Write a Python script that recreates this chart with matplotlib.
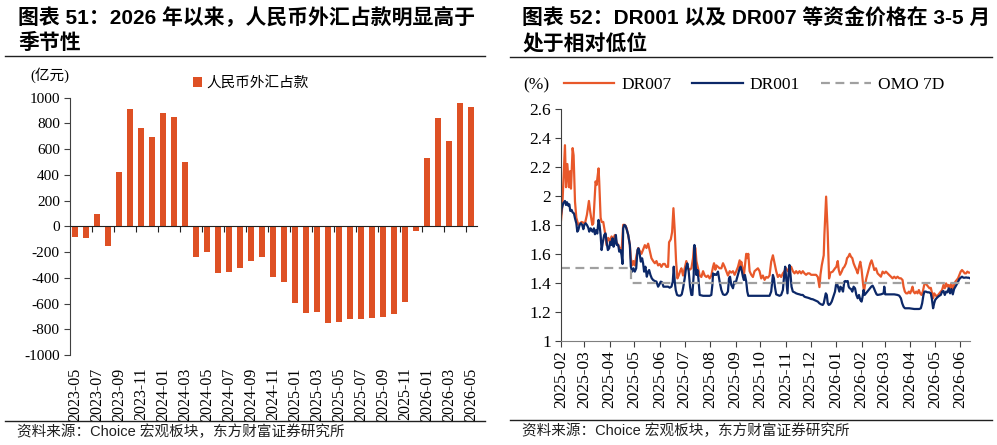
"""
plot.py
FX purchase (left bars) and DR001 / DR007 money rates (right lines)
"""

import numpy as np
import pandas as pd
import matplotlib
matplotlib.use("Agg")
from matplotlib import pyplot as plt
from matplotlib.lines import Line2D
from matplotlib.ticker import FuncFormatter

# Data
# monthly change of RMB FX purchase, 100 mn yuan, 2023-05 .. 2026-05
FX_MONTHS = [p.strftime('%Y-%m') for p in pd.period_range('2023-05', '2026-05', freq='M')]
FX_VALUES = [-81, -93, 93, -153, 424, 909, 766, 691, 883, 849, 502, -241, -197, -365,
             -358, -326, -270, -236, -397, -430, -593, -671, -663, -754, -744, -718,
             -718, -712, -707, -681, -588, -34, 533, 844, 665, 960, 929]

# money market rates, (days after 2025-02-01, %)
DR007 = [(0, 1.83), (1.6, 1.93), (4.8, 2.35), (6.1, 2.06), (7.7, 2.22), (9.7, 2.06), (10.9, 2.17),
         (12.1, 2.05), (14.1, 2.33), (15.3, 2.28), (17.0, 1.96), (18.6, 1.85), (21.0, 1.80), (25.0, 1.82),
         (29.1, 1.81), (31.5, 1.87), (33.9, 1.965), (35.5, 1.89), (38.0, 1.80), (39.2, 1.81), (42.0, 2.10),
         (43.2, 2.075), (45.6, 2.19), (46.4, 2.10), (48.1, 1.85), (49.3, 1.82), (51.3, 1.82), (53.3, 1.75),
         (55.3, 1.66), (57.3, 1.71), (59.4, 1.69), (61.4, 1.72), (63.4, 1.70), (65.4, 1.73), (67.4, 1.68),
         (69.5, 1.66), (73.5, 1.615), (75.5, 1.80), (77.5, 1.80), (79.5, 1.78), (81.6, 1.73), (83.6, 1.66),
         (84.8, 1.57), (86.4, 1.52), (88.0, 1.55), (89.6, 1.52), (91.7, 1.59), (93.7, 1.64), (95.7, 1.62),
         (97.7, 1.60), (99.7, 1.63), (101.8, 1.66), (103.8, 1.64), (105.8, 1.67), (107.8, 1.62), (109.8, 1.57),
         (111.9, 1.55), (113.9, 1.535), (115.9, 1.55), (117.9, 1.52), (119.9, 1.53), (121.9, 1.51), (124.0, 1.53),
         (126.0, 1.53), (128.0, 1.51), (130.0, 1.51), (131.2, 1.68), (133.3, 1.70), (134.9, 1.75), (136.5, 1.915),
         (138.1, 1.76), (139.7, 1.55), (141.3, 1.43), (142.9, 1.45), (144.6, 1.48), (146.2, 1.50), (148.2, 1.45),
         (150.2, 1.50), (152.2, 1.55), (154.2, 1.50), (156.3, 1.49), (158.3, 1.50), (160.3, 1.57), (161.5, 1.65),
         (163.2, 1.64), (164.4, 1.55), (166.4, 1.50), (168.4, 1.45), (170.4, 1.44), (172.5, 1.48), (174.5, 1.45),
         (176.5, 1.44), (178.5, 1.45), (180.5, 1.43), (182.5, 1.45), (184.6, 1.51), (185.8, 1.535), (187.4, 1.49),
         (188.6, 1.52), (190.6, 1.51), (192.6, 1.50), (194.7, 1.50), (196.7, 1.535), (198.7, 1.51), (200.7, 1.48),
         (202.7, 1.45), (204.8, 1.48), (206.8, 1.47), (208.8, 1.48), (210.8, 1.455), (212.8, 1.48), (214.9, 1.51),
         (216.9, 1.555), (217.7, 1.51), (218.9, 1.545), (220.9, 1.49), (222.1, 1.455), (223.7, 1.535), (224.9, 1.60),
         (226.2, 1.57), (227.4, 1.60), (229.0, 1.48), (231.0, 1.455), (233.0, 1.44), (235.0, 1.48), (237.1, 1.49),
         (239.1, 1.50), (241.1, 1.48), (243.1, 1.43), (245.1, 1.45), (247.2, 1.42), (249.2, 1.44), (251.2, 1.435),
         (253.2, 1.45), (255.2, 1.545), (257.3, 1.59), (259.3, 1.535), (261.3, 1.48), (263.3, 1.44), (265.3, 1.455),
         (267.3, 1.44), (269.4, 1.465), (271.4, 1.48), (273.4, 1.50), (275.4, 1.48), (277.4, 1.50), (279.5, 1.51),
         (281.5, 1.48), (283.5, 1.465), (285.5, 1.48), (287.5, 1.465), (289.6, 1.48), (291.6, 1.465), (293.6, 1.48),
         (295.6, 1.465), (297.6, 1.455), (299.6, 1.465), (301.7, 1.465), (303.7, 1.455), (305.7, 1.455),
         (307.7, 1.455), (309.7, 1.455), (311.8, 1.44), (313.8, 1.37), (315.0, 1.455), (316.6, 1.52), (317.8, 1.555),
         (319.0, 1.59), (319.8, 1.73), (321.1, 1.89), (321.9, 1.995), (323.8, 1.75), (325.5, 1.43), (327.1, 1.47),
         (329.9, 1.477), (332.7, 1.50), (334.3, 1.51), (336.0, 1.55), (337.2, 1.49), (338.8, 1.455), (340.8, 1.477),
         (342.4, 1.50), (344.0, 1.51), (346.0, 1.534), (347.3, 1.57), (348.9, 1.58), (350.5, 1.60), (352.1, 1.58),
         (353.7, 1.57), (355.3, 1.534), (357.0, 1.51), (358.6, 1.49), (360.2, 1.465), (361.8, 1.51), (363.4, 1.545),
         (365.0, 1.49), (366.6, 1.40), (367.9, 1.34), (369.1, 1.385), (370.7, 1.43), (372.3, 1.465), (373.9, 1.50),
         (375.5, 1.534), (377.1, 1.555), (378.8, 1.523), (380.4, 1.488), (382.4, 1.50), (384.4, 1.465),
         (386.4, 1.454), (388.4, 1.442), (390.5, 1.477), (392.5, 1.465), (394.5, 1.477), (396.5, 1.465),
         (398.5, 1.454), (400.6, 1.442), (402.6, 1.431), (404.6, 1.442), (406.6, 1.431), (408.6, 1.442),
         (410.7, 1.431), (412.7, 1.431), (414.7, 1.419), (415.9, 1.373), (417.5, 1.339), (419.1, 1.327),
         (420.8, 1.327), (422.4, 1.339), (424.0, 1.327), (425.6, 1.35), (426.8, 1.373), (428.0, 1.339),
         (429.6, 1.327), (431.3, 1.339), (432.9, 1.327), (434.5, 1.35), (436.1, 1.327), (437.7, 1.316),
         (439.3, 1.339), (441.0, 1.385), (442.6, 1.396), (444.2, 1.385), (445.8, 1.373), (447.4, 1.362),
         (449.0, 1.365), (450.6, 1.327), (451.8, 1.293), (453.1, 1.327), (454.7, 1.316), (456.3, 1.304),
         (457.9, 1.316), (459.5, 1.327), (461.1, 1.339), (462.7, 1.35), (464.4, 1.385), (466.0, 1.362),
         (467.6, 1.396), (469.2, 1.373), (470.8, 1.385), (472.4, 1.362), (474.0, 1.396), (475.7, 1.35),
         (477.3, 1.385), (478.9, 1.408), (480.5, 1.419), (482.1, 1.431), (483.7, 1.454), (485.3, 1.477),
         (486.9, 1.488), (488.6, 1.477), (490.2, 1.465), (491.8, 1.465), (493.4, 1.477), (495.0, 1.47),
         (496.6, 1.47)]

DR001 = [(0, 1.87), (0.8, 1.91), (2.8, 1.95), (4.8, 1.965), (6.1, 1.937), (7.3, 1.956), (8.9, 1.932),
         (10.1, 1.942), (11.3, 1.896), (12.9, 1.903), (14.1, 1.886), (15.7, 1.879), (17.0, 1.845), (18.6, 1.811),
         (19.8, 1.753), (21.0, 1.764), (22.6, 1.799), (24.2, 1.811), (25.8, 1.799), (27.1, 1.77), (28.3, 1.799),
         (29.9, 1.811), (31.5, 1.799), (33.1, 1.78), (34.3, 1.753), (35.9, 1.776), (37.1, 1.764), (38.4, 1.753),
         (40.0, 1.776), (41.2, 1.735), (42.8, 1.764), (44.0, 1.74), (45.6, 1.834), (46.8, 1.799), (48.1, 1.73),
         (49.3, 1.626), (50.9, 1.684), (52.5, 1.73), (54.1, 1.741), (55.3, 1.684), (56.9, 1.626), (58.5, 1.638),
         (59.8, 1.684), (61.4, 1.661), (62.6, 1.707), (63.8, 1.649), (65.4, 1.679), (66.6, 1.73), (67.8, 1.661),
         (69.5, 1.661), (70.7, 1.615), (72.3, 1.626), (73.5, 1.592), (74.7, 1.53), (75.5, 1.776), (76.7, 1.799),
         (78.3, 1.794), (80.0, 1.764), (81.6, 1.73), (83.6, 1.661), (84.8, 1.511), (86.4, 1.477), (88.0, 1.50),
         (89.6, 1.477), (91.3, 1.50), (92.9, 1.626), (94.1, 1.638), (95.7, 1.592), (96.9, 1.546), (98.5, 1.569),
         (99.7, 1.534), (100.9, 1.477), (102.5, 1.511), (104.2, 1.442), (105.8, 1.477), (107.0, 1.488),
         (108.6, 1.454), (110.2, 1.431), (111.9, 1.419), (113.9, 1.412), (115.9, 1.408), (117.9, 1.373),
         (119.5, 1.389), (121.1, 1.408), (122.8, 1.403), (124.4, 1.373), (126.0, 1.373), (128.0, 1.373),
         (130.0, 1.373), (132.0, 1.366), (134.1, 1.373), (135.7, 1.408), (136.9, 1.511), (138.1, 1.408),
         (139.3, 1.35), (140.9, 1.316), (142.9, 1.311), (145.0, 1.311), (146.6, 1.32), (148.2, 1.362),
         (150.2, 1.431), (151.8, 1.50), (153.4, 1.534), (155.1, 1.477), (156.7, 1.373), (158.3, 1.316),
         (159.5, 1.316), (161.1, 1.454), (162.0, 1.661), (163.2, 1.546), (164.4, 1.454), (165.6, 1.488),
         (166.8, 1.431), (168.4, 1.316), (172.5, 1.31), (176.5, 1.31), (180.5, 1.31), (182.5, 1.316),
         (183.8, 1.385), (184.6, 1.465), (185.8, 1.454), (187.0, 1.458), (188.6, 1.454), (190.6, 1.477),
         (192.6, 1.408), (194.7, 1.35), (196.7, 1.32), (198.7, 1.316), (200.7, 1.32), (202.7, 1.339),
         (204.0, 1.431), (205.2, 1.442), (206.8, 1.385), (208.8, 1.362), (210.4, 1.408), (212.0, 1.396),
         (213.6, 1.431), (215.3, 1.465), (216.9, 1.50), (218.1, 1.511), (219.7, 1.477), (220.9, 1.442),
         (222.1, 1.419), (223.3, 1.454), (224.9, 1.408), (226.2, 1.339), (227.4, 1.31), (231.0, 1.31),
         (237.1, 1.31), (243.1, 1.31), (249.2, 1.31), (253.2, 1.31), (255.2, 1.339), (257.3, 1.454),
         (258.5, 1.431), (259.7, 1.373), (261.3, 1.32), (265.3, 1.31), (267.3, 1.316), (269.4, 1.35),
         (271.0, 1.454), (272.2, 1.511), (273.4, 1.431), (275.0, 1.327), (276.2, 1.454), (277.4, 1.523),
         (278.7, 1.454), (279.9, 1.373), (281.5, 1.339), (283.5, 1.334), (285.5, 1.327), (287.5, 1.323),
         (289.6, 1.32), (291.6, 1.316), (293.6, 1.316), (295.6, 1.304), (297.6, 1.30), (299.6, 1.297),
         (301.7, 1.293), (303.7, 1.288), (305.7, 1.286), (307.7, 1.281), (309.7, 1.276), (311.8, 1.27),
         (313.8, 1.258), (315.8, 1.251), (317.8, 1.247), (319.0, 1.258), (320.2, 1.293), (321.5, 1.327),
         (322.7, 1.316), (323.9, 1.258), (325.1, 1.247), (326.7, 1.251), (328.7, 1.27), (330.7, 1.304),
         (332.7, 1.339), (333.9, 1.385), (335.1, 1.396), (336.8, 1.362), (338.0, 1.339), (339.2, 1.373),
         (340.8, 1.362), (342.4, 1.339), (344.0, 1.408), (345.2, 1.412), (346.9, 1.408), (348.1, 1.412),
         (349.3, 1.373), (350.5, 1.362), (352.1, 1.357), (353.7, 1.339), (355.3, 1.373), (357.0, 1.362),
         (358.6, 1.316), (360.2, 1.293), (361.8, 1.316), (363.4, 1.281), (365.0, 1.27), (366.2, 1.304),
         (367.4, 1.35), (368.7, 1.316), (370.3, 1.327), (371.9, 1.339), (373.5, 1.35), (375.1, 1.362),
         (376.7, 1.373), (378.4, 1.38), (380.0, 1.362), (381.6, 1.339), (383.2, 1.32), (384.4, 1.316),
         (388.4, 1.32), (391.7, 1.327), (392.5, 1.373), (393.7, 1.32), (398.5, 1.32), (404.6, 1.32),
         (408.6, 1.316), (410.7, 1.311), (412.7, 1.293), (414.3, 1.258), (415.9, 1.235), (417.5, 1.224),
         (422.8, 1.224), (428.8, 1.219), (434.9, 1.219), (436.9, 1.224), (438.5, 1.258), (440.1, 1.316),
         (441.3, 1.339), (443.0, 1.339), (445.0, 1.334), (447.0, 1.334), (449.0, 1.327), (450.2, 1.293),
         (451.8, 1.224), (453.1, 1.258), (454.3, 1.281), (455.9, 1.293), (457.9, 1.304), (459.5, 1.311),
         (461.1, 1.316), (462.7, 1.339), (464.4, 1.343), (466.0, 1.316), (467.6, 1.339), (469.2, 1.334),
         (470.8, 1.362), (472.4, 1.327), (474.0, 1.357), (475.7, 1.32), (477.3, 1.357), (478.9, 1.373),
         (480.5, 1.389), (482.1, 1.408), (483.7, 1.426), (485.3, 1.435), (486.9, 1.442), (488.6, 1.435),
         (490.2, 1.435), (491.8, 1.437), (493.4, 1.435), (495.0, 1.435), (496.6, 1.431)]

OMO_DAYS = [0, 84.4, 496.6]
OMO_VALUES = [1.5, 1.4, 1.4]
START = pd.Timestamp('2025-02-01')
RATE_MONTHS = pd.date_range('2025-02-01', '2026-06-01', freq='MS')

# Styles
SERIF = ['Liberation Serif', 'Noto Sans CJK SC']
SANS = ['Liberation Sans', 'Noto Sans CJK SC']
BAR_COLOR = '#DE5024'
DR007_COLOR = '#E8582A'
DR001_COLOR = '#0C2868'
OMO_COLOR = '#A0A0A0'
AXIS_COLOR = '#404040'
W, H = 997, 445

plt.rcParams['font.family'] = SERIF
plt.rcParams['font.size'] = 11
plt.rcParams['axes.unicode_minus'] = False


def fx(px):
    """ pixel x -> figure fraction """
    return px / W


def fy(py):
    """ pixel y (from top) -> figure fraction """
    return 1 - py / H


def to_dates(days):
    return START + pd.to_timedelta(np.asarray(days), unit='D')


fig = plt.figure(figsize=(W / 100, H / 100), dpi=100)

# ---------- left panel: bars ----------
ax1 = fig.add_axes([fx(69.5), fy(355), fx(407), 257.3 / H])
pos = np.arange(len(FX_VALUES))
ax1.bar(pos, FX_VALUES, width=0.55, color=BAR_COLOR, label='人民币外汇占款')
ax1.set_xlim(-0.5, len(FX_VALUES) - 0.5)
ax1.set_ylim(-1000, 1000)
ax1.set_yticks(np.arange(-1000, 1001, 200))
ax1.tick_params(axis='y', direction='out', length=4, color=AXIS_COLOR, labelsize=11, pad=3)
for side in ('top', 'right'):
    ax1.spines[side].set_visible(False)
ax1.spines['left'].set_color(AXIS_COLOR)
ax1.spines['bottom'].set_position(('data', 0))
ax1.spines['bottom'].set_color('#202020')
ax1.set_xticks(np.arange(1.5, len(FX_VALUES) - 1, 2))
ax1.tick_params(axis='x', direction='out', length=4, color='#202020', labelbottom=False)

sec = ax1.secondary_xaxis('bottom')
sec.spines['bottom'].set_visible(False)
sec.set_xticks(pos[::2], labels=FX_MONTHS[::2])
sec.tick_params(length=0, pad=9, labelrotation=90, labelsize=11.5)

ax1.legend(loc='center left', bbox_to_anchor=(fx(193), fy(83)), bbox_transform=fig.transFigure,
           frameon=False, handlelength=0.65, handleheight=0.65, handletextpad=0.3,
           borderpad=0, borderaxespad=0, prop={'family': SERIF, 'size': 10.5})
fig.text(fx(50), fy(75), '(亿元)', ha='center', va='center', fontsize=10.5, family=SERIF)

# ---------- right panel: rates ----------
ax2 = fig.add_axes([fx(561), fy(340.7), fx(409), 231.7 / H])
d007, v007 = zip(*DR007)
d001, v001 = zip(*DR001)
ax2.plot(to_dates(d007), v007, color=DR007_COLOR, lw=1.6, label='DR007')
ax2.plot(to_dates(d001), v001, color=DR001_COLOR, lw=1.6, label='DR001')
ax2.plot(to_dates(OMO_DAYS), OMO_VALUES, color=OMO_COLOR, lw=1.6, ls=(0, (4, 2.5)),
         drawstyle='steps-post', label='OMO 7D')
ax2.set_xlim(to_dates([0])[0], to_dates([d007[-1]])[0])
ax2.set_ylim(1, 2.6)
ax2.set_yticks(np.arange(1, 2.61, 0.2))
ax2.yaxis.set_major_formatter(FuncFormatter(lambda v, p: f'{v:.1f}'.rstrip('0').rstrip('.')))
ax2.set_xticks(RATE_MONTHS, labels=[m.strftime('%Y-%m') for m in RATE_MONTHS])
ax2.tick_params(axis='x', direction='out', length=4, color=AXIS_COLOR, labelrotation=90,
                labelsize=12.5, pad=3)
ax2.tick_params(axis='y', direction='out', length=4, color=AXIS_COLOR, labelsize=12.5, pad=3)
for side in ('top', 'right'):
    ax2.spines[side].set_visible(False)
ax2.spines['left'].set_color(AXIS_COLOR)
ax2.spines['bottom'].set_color('#7F7F7F')

ax2.legend(loc='center left', bbox_to_anchor=(fx(564), fy(85)), bbox_transform=fig.transFigure,
           ncol=3, frameon=False, handlelength=2.9, handletextpad=0.4, columnspacing=1.2,
           borderpad=0, borderaxespad=0, prop={'family': SERIF, 'size': 12.5})
fig.text(fx(536), fy(85), '(%)', ha='center', va='center', fontsize=12.5, family=SERIF)

# ---------- titles, rules and sources ----------
TITLE_KW = dict(fontsize=15, fontweight='bold', family=SANS, va='center', ha='left')
fig.text(fx(18), fy(17), '图表 51：2026 年以来，人民币外汇占款明显高于', **TITLE_KW)
fig.text(fx(18), fy(43), '季节性', **TITLE_KW)
fig.text(fx(522), fy(18), '图表 52：DR001 以及 DR007 等资金价格在 3-5 月', **TITLE_KW)
fig.text(fx(522), fy(43), '处于相对低位', **TITLE_KW)

SOURCE = '资料来源：Choice 宏观板块，东方财富证券研究所'
fig.text(fx(17), fy(432), SOURCE, fontsize=10.5, family=SANS, va='center', color='#202020')
fig.text(fx(522), fy(431), SOURCE, fontsize=10.5, family=SANS, va='center', color='#202020')

for x0, x1, y in [(5, 485, 56), (5, 485, 421), (510, 992, 57), (510, 992, 420)]:
    fig.add_artist(Line2D([fx(x0), fx(x1)], [fy(y), fy(y)], color='#202020', lw=1))

fig.savefig('out.png', dpi=100)
